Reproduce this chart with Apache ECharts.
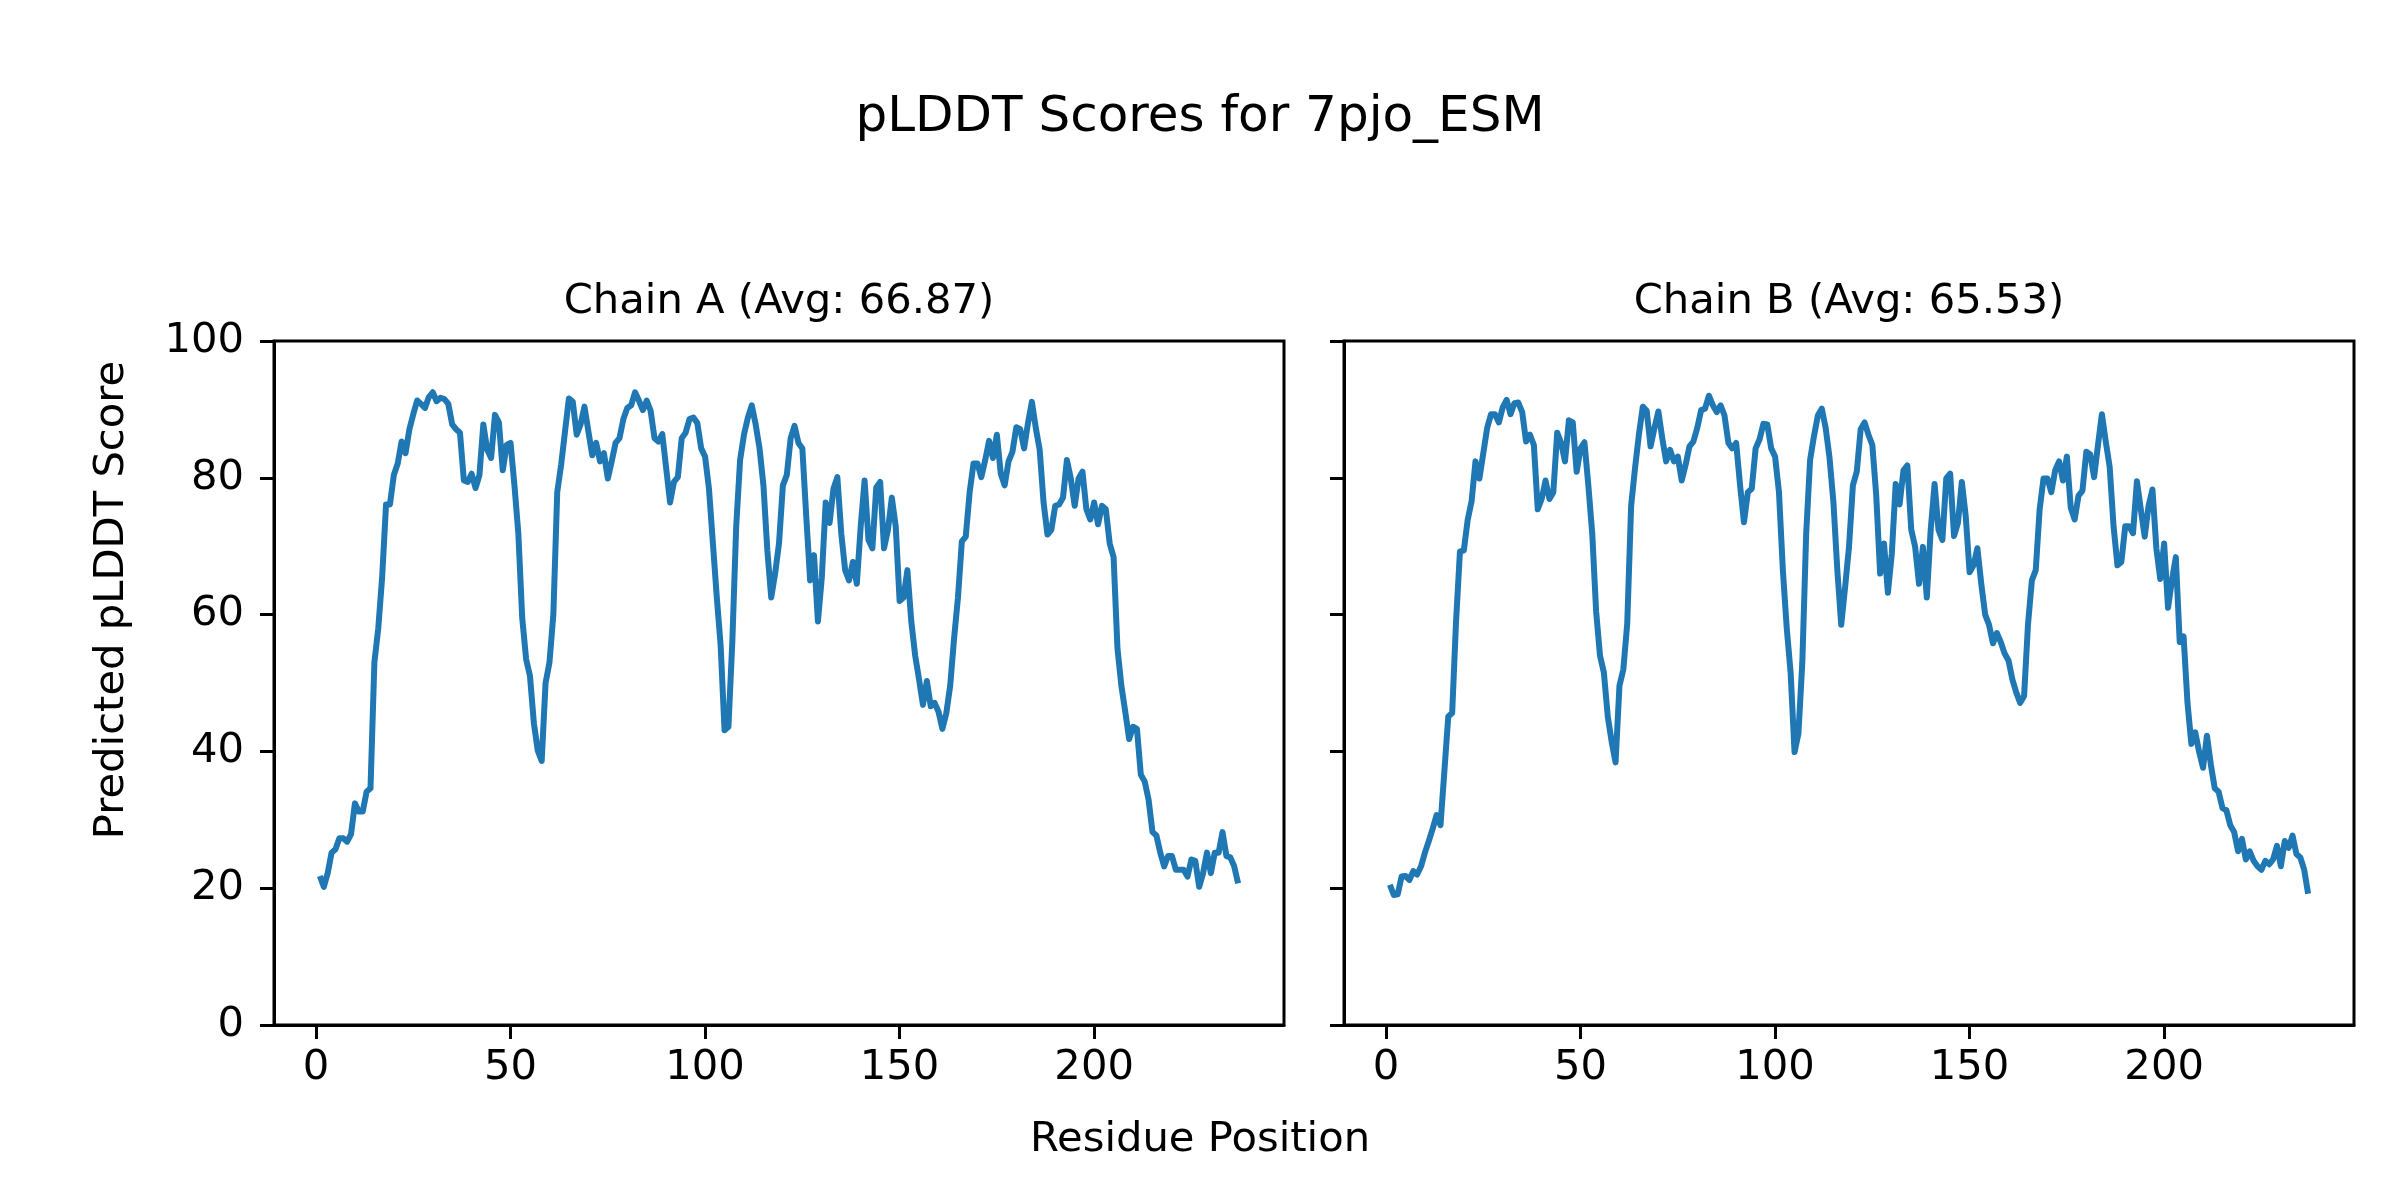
<!DOCTYPE html>
<html>
<head>
<meta charset="utf-8">
<script src="https://cdn.jsdelivr.net/npm/echarts@6/dist/echarts.min.js"></script>
<style>html,body{margin:0;padding:0;background:#fff}#c{width:2400px;height:1200px}</style>
</head>
<body>
<div id="c"></div>
<script>
const chartTitle = 'pLDDT Scores for 7pjo_ESM';
const titleA = 'Chain A (Avg: 66.87)';
const titleB = 'Chain B (Avg: 65.53)';
const xLabel = 'Residue Position';
const yLabel = 'Predicted pLDDT Score';
const xTicks = [0, 50, 100, 150, 200];
const yTicks = [0, 20, 40, 60, 80, 100];

const chainA = [
21.8,20.2,22.2,25.2,25.7,27.3,27.3,26.8,27.9,32.4,
31.2,31.2,34.1,34.6,53.0,58.0,65.5,76.1,76.1,80.4,
82.1,85.3,83.6,87.1,89.3,91.3,90.8,90.2,91.8,92.5,
91.2,91.7,91.5,90.8,87.8,87.1,86.6,79.6,79.4,80.6,
78.5,80.4,87.8,84.1,82.9,89.2,88.1,81.1,84.8,85.1,
78.9,71.9,59.5,53.5,51.0,44.1,40.1,38.6,50.0,53.0,
60.0,77.9,81.9,86.8,91.6,91.1,86.3,87.8,90.4,86.8,
83.3,85.1,82.4,83.6,79.9,82.4,85.1,85.8,88.6,90.2,
90.6,92.5,91.3,89.9,91.3,89.8,85.8,85.3,86.4,81.4,
76.4,79.4,80.1,85.8,86.6,88.6,88.8,88.0,84.3,83.1,
78.4,70.5,62.6,55.5,43.1,43.6,56.0,72.9,82.6,86.3,
88.8,90.6,87.8,84.3,78.9,69.4,62.5,66.0,70.4,78.9,
80.4,85.8,87.6,85.1,84.3,74.4,65.0,68.7,59.0,65.4,
76.4,73.4,78.4,80.1,71.9,66.5,65.0,67.7,64.5,72.9,
79.6,70.9,69.7,78.6,79.4,69.7,72.4,77.1,72.9,62.0,
62.5,66.5,59.0,54.0,50.5,46.8,50.3,46.6,47.1,45.8,
43.3,45.6,49.6,56.5,62.5,70.7,71.4,77.9,82.1,82.1,
80.1,82.6,85.4,82.9,86.3,80.6,78.9,82.4,83.8,87.4,
87.1,84.3,88.0,91.1,87.3,84.1,76.4,71.7,72.4,75.9,
76.1,77.1,82.6,79.9,75.9,79.9,80.9,75.4,73.9,76.4,
73.2,75.9,75.4,70.4,68.4,55.0,49.6,45.8,41.8,43.6,
43.3,36.6,35.6,32.9,28.2,27.7,25.2,23.2,24.7,24.7,
22.7,22.7,22.7,21.7,24.2,24.0,20.2,22.2,25.2,22.2,
25.2,25.2,28.2,24.7,24.5,23.2,20.7
];

const chainB = [
20.5,19.0,19.1,21.7,21.8,21.2,22.5,22.0,23.2,25.2,
26.9,28.7,30.7,29.2,37.1,45.1,45.6,59.0,69.2,69.4,
73.9,76.6,82.4,79.9,83.6,87.3,89.3,89.3,88.1,90.3,
91.4,89.3,90.9,91.0,89.6,85.3,86.3,84.8,75.4,76.9,
79.6,76.9,77.9,86.6,85.1,82.4,88.4,88.1,80.9,84.3,
85.2,78.9,71.9,60.5,54.0,51.5,45.1,41.4,38.4,49.6,
52.0,58.7,75.9,81.4,86.3,90.4,89.8,84.6,87.3,89.7,
85.8,82.4,84.1,82.4,83.1,79.6,81.9,84.6,85.3,87.3,
89.9,90.1,92.0,90.6,89.6,90.6,89.1,85.1,84.3,85.1,
78.9,73.5,77.9,78.4,84.3,85.6,87.9,87.8,84.3,83.1,
77.9,66.5,58.0,51.5,39.9,42.6,53.0,71.9,82.6,86.1,
89.1,90.1,87.3,82.9,76.4,66.5,58.5,64.0,69.9,78.9,
80.9,87.1,88.1,86.3,84.8,77.4,66.0,70.4,63.2,68.9,
79.1,76.1,81.1,81.8,72.4,69.9,64.5,69.9,62.5,72.4,
79.1,72.4,70.9,79.9,80.6,71.5,73.4,79.4,74.4,66.2,
67.2,69.7,64.5,60.0,58.5,55.8,57.3,56.0,54.3,53.3,
50.5,48.6,47.1,48.1,58.5,65.0,66.5,75.4,79.9,79.9,
77.9,81.1,82.4,79.6,83.1,75.6,73.9,77.4,78.1,83.8,
83.4,80.1,84.8,89.3,85.3,81.6,72.9,67.2,67.7,72.9,
72.9,71.9,79.5,75.4,71.4,75.9,78.3,69.7,65.2,70.4,
61.0,65.0,68.4,56.0,56.8,47.1,41.1,42.8,39.9,37.6,
42.3,38.1,34.6,34.1,31.7,31.4,29.2,28.2,25.4,27.2,
24.2,25.4,24.0,23.2,22.7,24.0,23.5,24.2,26.2,23.2,
26.9,25.9,27.7,25.0,24.5,22.7,19.2
];

const FONT = '"DejaVu Sans", sans-serif';
const pairs = arr => arr.map((v, i) => [i + 1, v]);

const grids = [
  {left: 274, top: 341, width: 1010, height: 684, show: true, borderColor: '#000', borderWidth: 3, backgroundColor: 'transparent'},
  {left: 1344, top: 341, width: 1010, height: 684, show: true, borderColor: '#000', borderWidth: 3, backgroundColor: 'transparent'}
];

function xAxis(gi) {
  return {
    type: 'value', gridIndex: gi, min: -10.8, max: 248.8,
    axisLine: {show: true, onZero: false, lineStyle: {color: '#000', width: 3}},
    axisTick: {show: true, inside: false, length: 14, lineStyle: {color: '#000', width: 3}, customValues: xTicks},
    axisLabel: {show: true, margin: 22, color: '#000', fontSize: 41.7, fontFamily: FONT, customValues: xTicks},
    splitLine: {show: false}
  };
}
function yAxis(gi, showLabels) {
  return {
    type: 'value', gridIndex: gi, min: 0, max: 100, interval: 20,
    axisLine: {show: true, onZero: false, lineStyle: {color: '#000', width: 3}},
    axisTick: {show: true, inside: false, length: 14, lineStyle: {color: '#000', width: 3}},
    axisLabel: {show: showLabels, margin: 30, color: '#000', fontSize: 41.7, fontFamily: FONT},
    splitLine: {show: false}
  };
}

const textEl = (text, x, y, size, rot) => ({
  type: 'text', x: x, y: y, rotation: rot || 0, silent: true,
  style: {text: text, fill: '#000', font: size + 'px ' + FONT, align: 'center', verticalAlign: 'middle'}
});

const chart = echarts.init(document.getElementById('c'), null, {width: 2400, height: 1200});
chart.setOption({
  animation: false,
  backgroundColor: '#fff',
  grid: grids,
  xAxis: [xAxis(0), xAxis(1)],
  yAxis: [yAxis(0, true), yAxis(1, false)],
  series: [
    {type: 'line', xAxisIndex: 0, yAxisIndex: 0, data: pairs(chainA), showSymbol: false, symbol: 'none',
     lineStyle: {color: '#1f77b4', width: 6, join: 'round'}, clip: true},
    {type: 'line', xAxisIndex: 1, yAxisIndex: 1, data: pairs(chainB), showSymbol: false, symbol: 'none',
     lineStyle: {color: '#1f77b4', width: 6, join: 'round'}, clip: true}
  ],
  graphic: [
    textEl(chartTitle, 1200, 118, 50),
    textEl(titleA, 779, 302, 41.7),
    textEl(titleB, 1849, 302, 41.7),
    textEl(xLabel, 1200, 1140, 41.7),
    textEl(yLabel, 112, 600, 41.7, Math.PI / 2)
  ]
});
</script>
</body>
</html>
